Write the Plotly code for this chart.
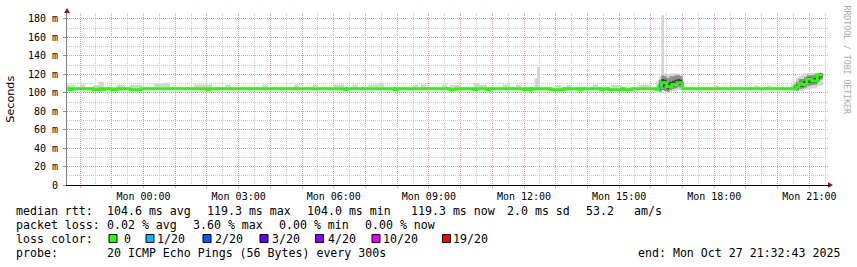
import datetime as dt
import plotly.graph_objects as go

# ---------------- data ----------------
# median RTT in ms, step values: each value holds until the next time
med_t = ["26 21:35", "26 21:40", "26 21:45", "26 22:25", "26 22:35", "26 22:40", "26 22:45",
         "26 23:00", "26 23:10", "26 23:35", "26 23:55", "27 02:00", "27 02:05", "27 06:20",
         "27 06:25", "27 07:55", "27 08:00", "27 09:40", "27 09:50", "27 10:25", "27 10:30",
         "27 10:50", "27 10:55", "27 12:00", "27 12:05", "27 12:10", "27 12:15", "27 12:50",
         "27 13:15", "27 13:45", "27 13:50", "27 14:25", "27 14:30", "27 14:40", "27 15:05",
         "27 15:10", "27 15:25", "27 16:10", "27 16:15", "27 16:20", "27 16:30", "27 16:40",
         "27 16:50", "27 17:00", "27 20:35", "27 20:40", "27 20:45", "27 20:55", "27 21:05",
         "27 21:15", "27 21:25"]
med_v = [104.3, 103.2, 104.3, 103.2, 104.3, 103.2, 104.3,
         103.2, 104.3, 103.2, 104.3, 103.2, 104.3, 103.2,
         104.3, 103.2, 104.3, 103.2, 104.3, 103.2, 104.3,
         103.2, 104.3, 103.2, 104.3, 103.2, 104.3, 103.2,
         104.3, 103.2, 104.3, 103.2, 104.3, 103.2, 104.3,
         103.2, 104.3, 103.2, 106.0, 111.0, 106.5, 109.0,
         111.0, 104.3, 106.0, 110.0, 109.0, 115.0, 112.7,
         119.3, 119.3]

# steps with packet loss (1/20) on the median line
loss_t = ["27 16:15", "27 16:20"]
loss_v = [106.0, 106.0]

# outer smoke (all pings, min .. max), step values
smoke_t = ["26 21:35", "26 21:50", "26 22:00", "26 22:10", "26 22:25", "26 22:35", "26 22:45",
           "26 23:10", "26 23:25", "26 23:35", "27 00:00", "27 00:20", "27 00:40", "27 00:50",
           "27 01:35", "27 02:10", "27 02:35", "27 02:45", "27 03:45", "27 03:55", "27 04:45",
           "27 04:55", "27 05:20", "27 05:30", "27 06:00", "27 06:20", "27 06:35", "27 06:45",
           "27 07:05", "27 07:25", "27 07:35", "27 08:30", "27 08:40", "27 08:45", "27 08:55",
           "27 09:25", "27 09:35", "27 09:40", "27 10:00", "27 10:25", "27 10:35", "27 10:50",
           "27 11:20", "27 11:35", "27 11:45", "27 11:55", "27 12:20", "27 12:25", "27 12:30",
           "27 13:00", "27 13:10", "27 13:20", "27 13:30", "27 14:10", "27 14:20", "27 14:45",
           "27 15:05", "27 15:35", "27 16:00", "27 16:10", "27 16:15", "27 16:20", "27 16:25",
           "27 16:30", "27 16:35", "27 16:40", "27 16:45", "27 16:50", "27 16:55", "27 17:00",
           "27 18:00", "27 18:10", "27 19:15", "27 19:25", "27 19:40", "27 19:50", "27 20:25",
           "27 20:30", "27 20:35", "27 20:40", "27 20:45", "27 20:50", "27 20:55", "27 21:00",
           "27 21:05", "27 21:10", "27 21:15", "27 21:20", "27 21:25"]
smoke_lo = [103.5, 103.5, 103.5, 103.5, 103.5, 103.5, 103.5,
            103.5, 103.5, 103.5, 103.5, 103.5, 103.5, 103.5,
            103.5, 103.5, 103.5, 103.5, 103.5, 103.5, 103.5,
            103.5, 103.5, 103.5, 103.5, 103.5, 103.5, 103.5,
            103.5, 103.5, 103.5, 103.5, 103.5, 103.5, 103.5,
            103.5, 103.5, 103.5, 103.5, 103.5, 103.5, 103.5,
            103.5, 103.5, 103.5, 103.5, 103.5, 103.5, 103.5,
            103.5, 103.5, 103.5, 103.5, 103.5, 103.5, 103.5,
            103.5, 103.5, 103.5, 103.0, 100.0, 101.0, 101.0,
            100.0, 101.0, 102.0, 102.0, 103.0, 103.0, 103.5,
            103.5, 103.5, 103.5, 103.5, 103.5, 103.5, 103.0,
            102.0, 101.0, 102.0, 102.0, 103.0, 104.0, 104.0,
            105.0, 105.0, 107.0, 108.0, 108.0]
smoke_hi = [109.0, 106.0, 109.0, 106.0, 108.5, 112.0, 106.0,
            109.0, 106.0, 108.5, 106.0, 110.0, 111.0, 106.0,
            109.0, 106.0, 109.0, 106.0, 109.0, 106.0, 109.0,
            106.0, 109.0, 106.0, 109.0, 106.0, 109.0, 106.0,
            109.0, 111.0, 106.0, 109.0, 106.0, 109.0, 106.0,
            109.0, 106.0, 108.5, 106.0, 111.0, 108.5, 106.0,
            109.0, 106.0, 109.0, 106.0, 115.7, 128.0, 106.0,
            108.5, 106.0, 108.5, 106.0, 109.0, 106.0, 108.5,
            106.0, 108.5, 106.0, 112.0, 118.0, 184.0, 121.0,
            120.0, 121.0, 121.0, 121.0, 121.0, 120.0, 106.0,
            108.0, 106.0, 108.0, 106.0, 107.5, 106.0, 109.0,
            112.0, 116.0, 118.0, 119.0, 121.0, 121.5, 121.5,
            121.5, 121.5, 121.5, 122.0, 122.0]

# denser smoke around the median in the two unstable periods
midA_t = ["27 16:15", "27 16:20", "27 16:25", "27 16:30", "27 16:35", "27 16:40", "27 16:45", "27 16:50", "27 16:55", "27 17:00"]
midA_lo = [101.0, 103.0, 102.0, 101.0, 103.0, 104.0, 105.0, 106.0, 106.0, 106.0]
midA_hi = [114.0, 119.0, 118.0, 116.0, 118.0, 118.0, 119.0, 119.0, 118.0, 118.0]
coreA_lo = [103.5, 106.0, 107.0, 103.5, 105.5, 106.5, 107.5, 108.5, 108.5, 108.5]
coreA_hi = [109.0, 115.0, 114.0, 110.0, 112.0, 113.0, 114.0, 115.0, 114.0, 114.0]

midB_t = ["27 20:30", "27 20:35", "27 20:40", "27 20:45", "27 20:50", "27 20:55", "27 21:00", "27 21:05", "27 21:10", "27 21:15", "27 21:20", "27 21:25"]
midB_lo = [103.0, 102.5, 104.0, 104.5, 105.5, 107.0, 108.0, 108.5, 109.0, 112.0, 114.0, 114.0]
midB_hi = [109.0, 112.0, 115.0, 115.0, 117.0, 119.0, 119.0, 119.0, 120.0, 121.0, 121.5, 121.5]
coreB_lo = [104.0, 103.5, 106.5, 106.5, 107.5, 110.5, 111.0, 110.5, 110.5, 115.0, 116.5, 116.5]
coreB_hi = [106.5, 109.0, 112.0, 112.0, 113.0, 117.0, 117.0, 116.0, 116.0, 120.5, 121.0, 121.0]

x_tick_labels = ["Mon 00:00", "Mon 03:00", "Mon 06:00", "Mon 09:00",
                 "Mon 12:00", "Mon 15:00", "Mon 18:00", "Mon 21:00"]
y_tick_vals = [0, 20, 40, 60, 80, 100, 120, 140, 160, 180]
y_tick_text = ["0", "20 m", "40 m", "60 m", "80 m", "100 m", "120 m", "140 m", "160 m", "180 m"]

rtt_stats = ["104.6 ms avg", "119.3 ms max", "104.0 ms min", "119.3 ms now", "2.0 ms sd", "53.2", "am/s"]
loss_stats = ["0.02 % avg", "3.60 % max", "0.00 % min", "0.00 % now"]
loss_labels = ["0", "1/20", "2/20", "3/20", "4/20", "10/20", "19/20"]
probe_text = "20 ICMP Echo Pings (56 Bytes) every 300s"
end_text = "end: Mon Oct 27 21:32:43 2025"

# ---------------- styles / layout ----------------
LOSS_COLORS = ["#26ff00", "#00b8ff", "#0059ff", "#5e00ff", "#7e00ff", "#dd00ff", "#ff0000"]
SMOKE_OUTER = "#d4d4d4"
SMOKE_MID = "#8e8e8e"
SMOKE_CORE = "#404040"
MAJ = "#e3a0a0"
MIN = "#c8c8c8"
MONO = "DejaVu Sans Mono"

W, H = 857, 267
L, R, T, B = 67, 828, 13, 185


def day(s):
    d, hm = s.split()
    return f"2025-10-{d} {hm}"


def px(x):
    return (x - L) / (R - L)


def py(y):
    return (B - y) / (B - T)


fig = go.Figure()


def band(ts, lo, hi, color):
    xs = [day(s) for s in ts]
    fig.add_trace(go.Scatter(x=xs, y=lo, mode="lines", line=dict(width=0, shape="hv"),
                             hoverinfo="skip", showlegend=False))
    fig.add_trace(go.Scatter(x=xs, y=hi, mode="lines", line=dict(width=0, shape="hv"),
                             fill="tonexty", fillcolor=color, hoverinfo="skip", showlegend=False))


band(smoke_t, smoke_lo, smoke_hi, SMOKE_OUTER)
band(midA_t, midA_lo, midA_hi, SMOKE_MID)
band(midA_t, coreA_lo, coreA_hi, SMOKE_CORE)
band(midB_t, midB_lo, midB_hi, SMOKE_MID)
band(midB_t, coreB_lo, coreB_hi, SMOKE_CORE)

fig.add_trace(go.Scatter(x=[day(s) for s in med_t], y=med_v, mode="lines",
                         line=dict(color=LOSS_COLORS[0], width=3, shape="hv"),
                         hoverinfo="skip", showlegend=False))
fig.add_trace(go.Scatter(x=[day(s) for s in loss_t], y=loss_v, mode="lines",
                         line=dict(color=LOSS_COLORS[1], width=3, shape="hv"),
                         hoverinfo="skip", showlegend=False))

# x ticks: grid every hour, label every 3 hours
hour_ticks = [dt.datetime(2025, 10, 26, 22) + dt.timedelta(hours=i) for i in range(24)]
label_map = {lab.split()[1]: lab for lab in x_tick_labels}
tick_text = [label_map.get(h.strftime("%H:%M"), "") if h.day == 27 else "" for h in hour_ticks]

fig.update_layout(
    width=W, height=H, autosize=False,
    margin=dict(l=L, r=W - R, t=T, b=H - B, pad=0),
    paper_bgcolor="white", plot_bgcolor="white", showlegend=False,
    xaxis=dict(type="date", range=["2025-10-26 21:35:14", "2025-10-27 21:35:14"],
               tickmode="array", tickvals=hour_ticks, ticktext=tick_text,
               showgrid=True, gridcolor=MAJ, gridwidth=1, griddash="1px,1px",
               ticks="outside", ticklen=2, tickcolor=MAJ,
               tickfont=dict(family=MONO, size=10, color="#000000"),
               showline=True, linecolor="#000000", linewidth=1, zeroline=False,
               minor=dict(dtick=1800000, tick0="2025-10-26 21:30", showgrid=True,
                          gridcolor=MIN, griddash="1px,1px", gridwidth=1)),
    yaxis=dict(range=[0, 186.5], tickmode="array", tickvals=y_tick_vals, ticktext=y_tick_text,
               showgrid=True, gridcolor=MAJ, gridwidth=1, griddash="1px,1px",
               ticks="outside", ticklen=3, tickcolor="#909090", ticklabelstandoff=3,
               tickfont=dict(family=MONO, size=10, color="#000000"),
               showline=True, linecolor="#808080", linewidth=1, zeroline=False,
               minor=dict(dtick=10, tick0=0, showgrid=True, gridcolor=MIN,
                          griddash="1px,1px", gridwidth=1)),
)

ann = []
shapes = []


def text(x, y, s, anchor="left", size=11.6, color="#000000", family=MONO, angle=0):
    ann.append(dict(x=px(x), y=py(y), xref="paper", yref="paper", text=s, showarrow=False,
                    xanchor=anchor, yanchor="middle", borderpad=0, borderwidth=0,
                    textangle=angle, font=dict(family=family, size=size, color=color)))


# legend rows
ROW = [210.6, 225.4, 239.4, 253.4]
text(16, ROW[0], "median rtt:")
for s, x in zip(rtt_stats, [107.3, 207.3, 307.3, 410.7, 507.3, 586, 634]):
    text(x, ROW[0], s)
text(16, ROW[1], "packet loss:")
for s, x in zip(loss_stats, [107.3, 193.3, 279.3, 365]):
    text(x, ROW[1], s)
text(16, ROW[2], "loss color:")
for s, c, bx, tx in zip(loss_labels, LOSS_COLORS,
                        [108.5, 145.5, 202.5, 259.5, 315, 371.5, 442],
                        [124, 156.7, 215, 271.7, 328, 383, 453]):
    shapes.append(dict(type="rect", xref="paper", yref="paper",
                       x0=px(bx + 0.5), x1=px(bx + 8.5), y0=py(242.5), y1=py(234.5),
                       fillcolor=c, line=dict(color="#000000", width=1)))
    text(tx, ROW[2], s)
text(16, ROW[3], "probe:")
text(107.3, ROW[3], probe_text)
text(840, ROW[3], end_text, anchor="right")

# axis title and watermark
text(11, 99.7, "Seconds", anchor="center", size=11.2, family="DejaVu Sans", angle=-90)
text(847, 59.5, "RRDTOOL / TOBI OETIKER", anchor="center", size=8.2, color="#ababab", angle=90)

# axis arrows
ARROW = "#8b1a1a"
shapes.append(dict(type="path", xref="paper", yref="paper", fillcolor=ARROW,
                   line=dict(color=ARROW, width=0),
                   path=f"M {px(64)},{py(13)} L {px(70)},{py(13)} L {px(67)},{py(8)} Z"))
shapes.append(dict(type="path", xref="paper", yref="paper", fillcolor=ARROW,
                   line=dict(color=ARROW, width=0),
                   path=f"M {px(828)},{py(182)} L {px(828)},{py(188)} L {px(833)},{py(185)} Z"))
shapes.append(dict(type="line", xref="paper", yref="paper", x0=px(828), x1=px(830),
                   y0=py(185.5), y1=py(185.5), line=dict(color="#000000", width=1)))

fig.update_layout(annotations=ann, shapes=shapes)
fig.write_html("out.html")
